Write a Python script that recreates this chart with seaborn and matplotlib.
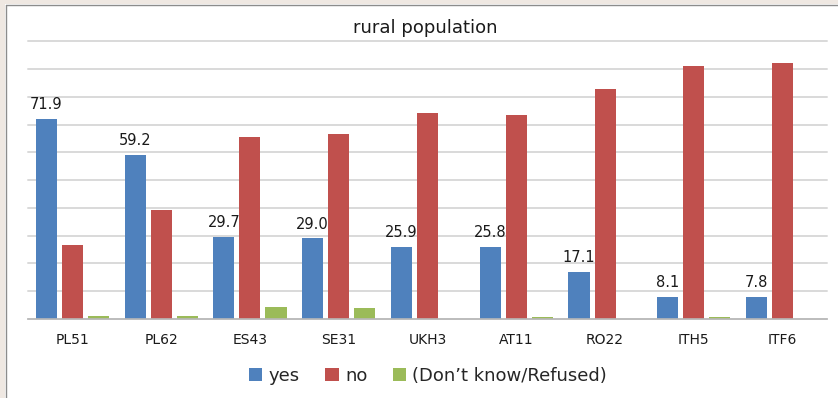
import matplotlib
matplotlib.use("Agg")
import matplotlib.pyplot as plt
import seaborn as sns
import pandas as pd
from matplotlib.patches import Rectangle
from matplotlib.lines import Line2D

regions = ["PL51", "PL62", "ES43", "SE31", "UKH3", "AT11", "RO22", "ITH5", "ITF6"]
yes_vals = [71.9, 59.2, 29.7, 29.0, 25.9, 25.8, 17.1, 8.1, 7.8]
no_vals = [26.6, 39.3, 65.5, 66.7, 74.1, 73.5, 82.9, 91.0, 92.1]
dk_vals = [1.2, 1.2, 4.4, 4.1, 0.0, 0.6, 0.0, 0.6, 0.0]
series = ["yes", "no", "(Don\u2019t know/Refused)"]
colors = ["#4f81bd", "#c0504d", "#9bbb59"]

rows = []
for s, vals in zip(series, [yes_vals, no_vals, dk_vals]):
    for r, v in zip(regions, vals):
        rows.append({"region": r, "answer": s, "value": v})
df = pd.DataFrame(rows)

sns.set_theme(style="white")
plt.rcParams["font.family"] = ["DejaVu Sans"]

fig = plt.figure(figsize=(8.38, 3.98), dpi=100, facecolor="white")
ax = fig.add_axes([28 / 838, 1 - 319 / 398, (827 - 28) / 838, (319 - 41.3) / 398])

sns.barplot(data=df, x="region", y="value", hue="answer", order=regions,
            hue_order=series, palette=colors, width=0.88, gap=0.19,
            saturation=1, edgecolor="none", ax=ax, legend=False)

ax.set_ylim(0, 100)
ax.set_yticks(range(0, 101, 10))
ax.yaxis.grid(True, color="#d9d9d9", linewidth=1.4)
for gl in ax.get_ygridlines():
    gl.set_clip_on(False)
ax.set_axisbelow(True)
ax.set_yticklabels([])
ax.tick_params(axis="y", length=0)
ax.tick_params(axis="x", length=0, labelsize=10, pad=10, colors="#1a1a1a")
ax.set_xlabel("")
ax.set_ylabel("")
for sp in ["left", "right", "top"]:
    ax.spines[sp].set_visible(False)
ax.spines["bottom"].set_color("#b8b8b8")
ax.spines["bottom"].set_linewidth(1.2)
ax.set_xlim(-0.5, len(regions) - 0.5)

ax.bar_label(ax.containers[0], fmt="%.1f", padding=5, fontsize=10.5, color="#1a1a1a")

fig.text(425 / 838, 1 - 28 / 398, "rural population", ha="center", va="center",
         fontsize=13, color="#1a1a1a")

handles = [Rectangle((0, 0), 1, 1, facecolor=c, edgecolor="none") for c in colors]
fig.legend(handles, series, loc="center", bbox_to_anchor=(428 / 838, 1 - 376 / 398),
           ncol=3, frameon=False, fontsize=13, handlelength=0.75, handleheight=0.75,
           handletextpad=0.35, columnspacing=1.4)

# beige frame at top and left (screenshot border)
fig.patches.append(Rectangle((0, 1 - 4 / 398), 1, 4 / 398, transform=fig.transFigure,
                             facecolor="#efe8e2", edgecolor="none", zorder=0))
fig.patches.append(Rectangle((0, 0), 5 / 838, 1, transform=fig.transFigure,
                             facecolor="#efe8e2", edgecolor="none", zorder=0))
fig.lines.append(Line2D([5.5 / 838, 1], [1 - 4.5 / 398, 1 - 4.5 / 398],
                        transform=fig.transFigure, color="#8c8c8c", linewidth=1))
fig.lines.append(Line2D([5.5 / 838, 5.5 / 838], [0, 1 - 4.5 / 398],
                        transform=fig.transFigure, color="#8c8c8c", linewidth=1))

fig.savefig("out.png", dpi=100, facecolor="white")
